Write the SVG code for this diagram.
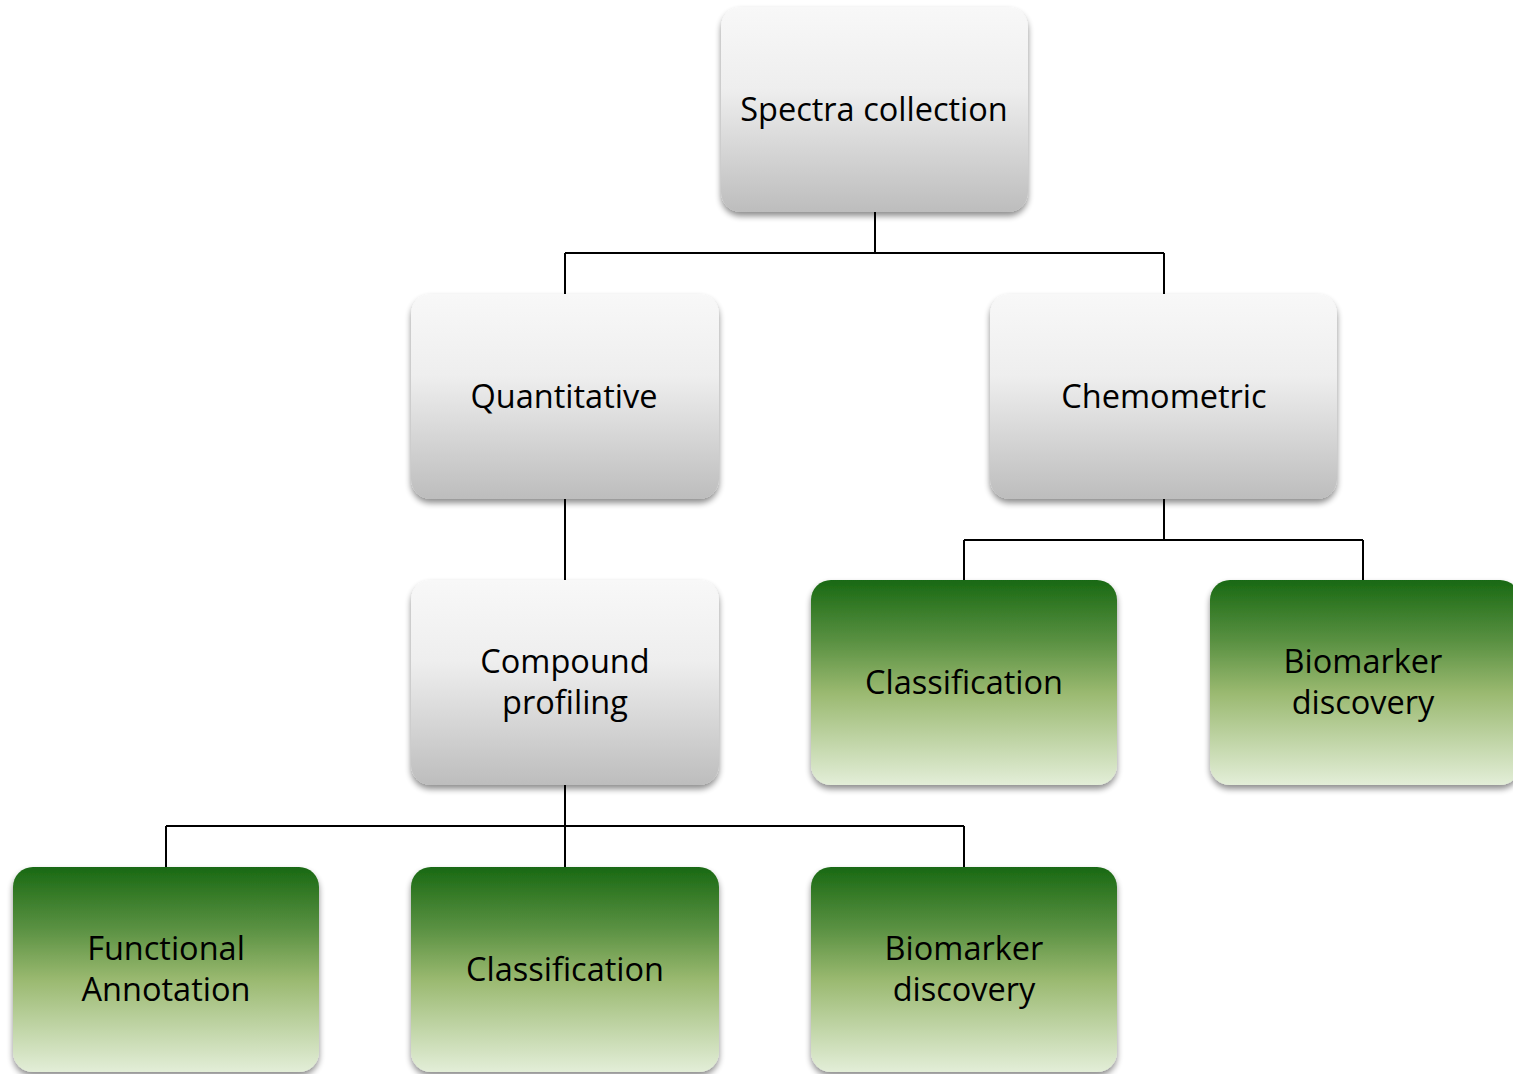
<svg xmlns="http://www.w3.org/2000/svg" width="1513" height="1074" viewBox="0 0 1513 1074">
<defs>
<linearGradient id="gGray" x1="0" y1="0" x2="0" y2="1">
<stop offset="0" stop-color="#f8f8f8"/>
<stop offset="0.4" stop-color="#eeeeee"/>
<stop offset="1" stop-color="#bdbdbd"/>
</linearGradient>
<linearGradient id="gGreen" x1="0" y1="0" x2="0" y2="1">
<stop offset="0" stop-color="#196913"/>
<stop offset="0.3" stop-color="#5a9142"/>
<stop offset="0.55" stop-color="#9ab970"/>
<stop offset="1" stop-color="#e3eed8"/>
</linearGradient>
<filter id="sh" x="-10%" y="-10%" width="120%" height="125%">
<feGaussianBlur in="SourceAlpha" stdDeviation="3"/>
<feOffset dx="0" dy="4" result="b"/>
<feComponentTransfer><feFuncA type="linear" slope="0.45"/></feComponentTransfer>
<feMerge><feMergeNode/><feMergeNode in="SourceGraphic"/></feMerge>
</filter>
</defs>
<style>
.gray{fill:url(#gGray);filter:url(#sh)}
.green{fill:url(#gGreen);filter:url(#sh)}
.lbl{font-family:"Open Sans","Liberation Sans",sans-serif;font-size:32.5px;fill:#000;text-anchor:middle}
.conn{fill:none;stroke:#000;stroke-width:2}
</style>
<rect width="1513" height="1074" fill="#fff"/>
<g id="connectors">
<path class="conn" d="M875 212V253M565 253H1164M565 253V294M1164 253V294"/>
<path class="conn" d="M565 499V580"/>
<path class="conn" d="M1164 499V540M964 540H1363M964 540V580M1363 540V580"/>
<path class="conn" d="M565 785V867M166 826H964M166 826V867M964 826V867"/>
</g>
<g id="spectra"><rect class="gray" x="721" y="7" width="307" height="205" rx="20"/><text class="lbl" x="874" y="121">Spectra collection</text></g>
<g id="quantitative"><rect class="gray" x="411" y="294" width="308" height="205" rx="20"/><text class="lbl" x="564" y="408">Quantitative</text></g>
<g id="chemometric"><rect class="gray" x="990" y="294" width="347" height="205" rx="20"/><text class="lbl" x="1164" y="408">Chemometric</text></g>
<g id="compound"><rect class="gray" x="411" y="580" width="308" height="205" rx="20"/><text class="lbl" x="565" y="673">Compound</text><text class="lbl" x="565" y="714">profiling</text></g>
<g id="classification-chemo"><rect class="green" x="811" y="580" width="306" height="205" rx="20"/><text class="lbl" x="964" y="694">Classification</text></g>
<g id="biomarker-chemo"><rect class="green" x="1210" y="580" width="310" height="205" rx="20"/><text class="lbl" x="1363" y="673">Biomarker</text><text class="lbl" x="1363" y="714">discovery</text></g>
<g id="functional"><rect class="green" x="13" y="867" width="306" height="205" rx="20"/><text class="lbl" x="166" y="960">Functional</text><text class="lbl" x="166" y="1001">Annotation</text></g>
<g id="classification-comp"><rect class="green" x="411" y="867" width="308" height="205" rx="20"/><text class="lbl" x="565" y="981">Classification</text></g>
<g id="biomarker-comp"><rect class="green" x="811" y="867" width="306" height="205" rx="20"/><text class="lbl" x="964" y="960">Biomarker</text><text class="lbl" x="964" y="1001">discovery</text></g>
</svg>
